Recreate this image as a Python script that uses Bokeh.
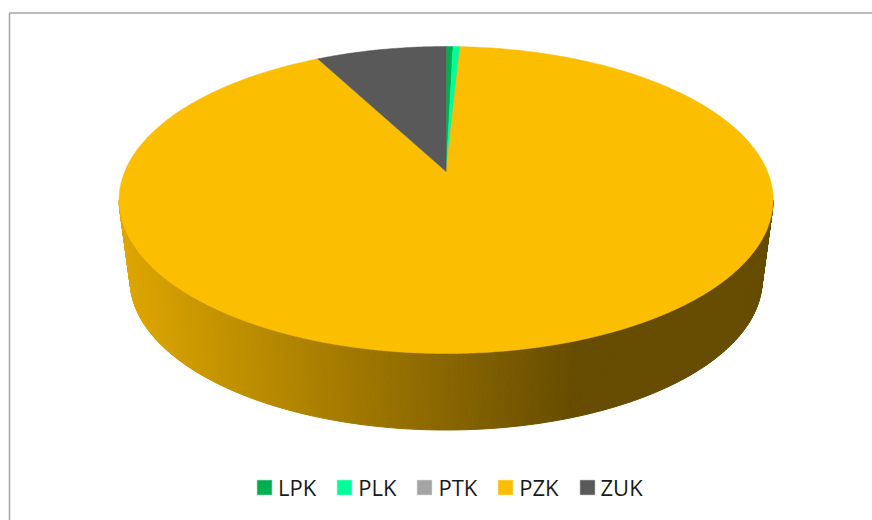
import numpy as np
from bokeh.embed import file_html
from bokeh.resources import INLINE
from bokeh.plotting import figure
from bokeh.models import Range1d, Legend, LegendItem

categories = ["LPK", "PLK", "PTK", "PZK", "ZUK"]
values = [0.41, 0.41, 0.0, 91.48, 7.7]
colors = ["#00B050", "#00FF99", "#A5A5A5", "#FBBE00", "#595959"]

W, H = 872, 520
p = figure(width=W, height=H, output_backend="svg", toolbar_location=None,
           x_range=Range1d(0, W), y_range=Range1d(H, 0),
           min_border=0, outline_line_color=None, background_fill_color="white")
p.axis.visible = False
p.grid.visible = False

# geometry of the tilted disc (page pixels)
CX, APEX_Y = 445.6, 171.0
K, A, B = 0.1857, 148.2, 321.3      # perspective of the top face
TOP_RX, TOP_RY, TOP_CY = 327.0, 153.5, 199.5
BOT_RX, BOT_RY, BOT_CY = 316.0, 150.0, 279.5
DARK_X, LIGHT_X = 572.0, 125.0
LIGHT, DARK = np.array([0xDF, 0xA7, 0x00]), np.array([0x66, 0x4C, 0x00])


def project(theta):
    u, v = np.sin(theta), np.cos(theta)
    w = 1 + K * v
    return CX + B * u / w, APEX_Y - A * v / w


# side wall, painted as narrow strips to make the shading
phi = np.linspace(0, np.pi, 261)
xs, ys, cols = [], [], []
for a, b in zip(phi[:-1], phi[1:]):
    tx = CX + TOP_RX * np.cos([a, b])
    ty = TOP_CY + TOP_RY * np.sin([a, b])
    bx = CX + BOT_RX * np.cos([a, b])
    by = BOT_CY + BOT_RY * np.sin([a, b])
    xs.append([tx[0], tx[1], bx[1], bx[0]])
    ys.append([ty[0], ty[1], by[1], by[0]])
    t = np.clip((bx.mean() - LIGHT_X) / (DARK_X - LIGHT_X), 0, 1)
    c = LIGHT + (DARK - LIGHT) * t
    cols.append("#%02x%02x%02x" % tuple(int(round(i)) for i in c))
p.patches(xs, ys, fill_color=cols, line_color=cols, line_width=1)

# top face
fractions = np.array(values) / sum(values)
edges = np.concatenate([[0], np.cumsum(fractions)]) * 2 * np.pi
items = []
for i, name in enumerate(categories):
    n = max(2, int(np.degrees(edges[i + 1] - edges[i]) * 2))
    th = np.linspace(edges[i], edges[i + 1], n)
    x, y = project(th)
    r = p.patch(np.r_[CX, x], np.r_[APEX_Y, y], fill_color=colors[i],
                line_color=colors[i], line_width=0.5)
    items.append(LegendItem(label=name, renderers=[r]))

# chart frame
p.line([W, 9, 9], [12.5, 12.5, H], line_color="#A6A6A6", line_width=1.5)

legend = Legend(items=items, orientation="horizontal", location=(255, 18),
                glyph_width=18, glyph_height=18, label_standoff=5, spacing=19,
                padding=0, margin=0, border_line_color=None,
                background_fill_alpha=0,
                label_text_font="Open Sans", label_text_font_size="22px",
                label_text_color="#1A1A1A")
p.add_layout(legend, "center")

open("out.html", "w").write(file_html(p, INLINE))
